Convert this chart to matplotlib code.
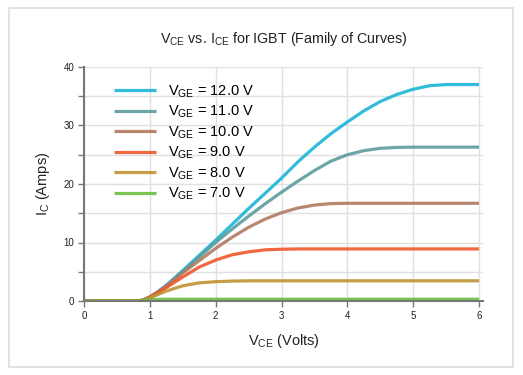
import matplotlib
matplotlib.use("Agg")
import matplotlib.pyplot as plt
from matplotlib.patches import Rectangle

plt.rcParams['font.family'] = ['Liberation Sans', 'DejaVu Sans']
plt.rcParams['mathtext.default'] = 'regular'

# V_CE sample points (Volts)
vce = [0, 0.8, 0.9, 1.0, 1.1, 1.25, 1.5, 1.75, 2.0, 2.25, 2.5, 2.75, 3.0,
       3.25, 3.5, 3.75, 4.0, 4.25, 4.5, 4.75, 5.0, 5.25, 5.5, 5.75, 6.0]

# I_C (Amps) for each gate voltage
ic_12 = [0, 0, 0.15, 0.7, 1.4, 2.7, 5.2, 7.8, 10.4, 13.1, 15.8, 18.4, 21.0,
         23.8, 26.3, 28.6, 30.6, 32.5, 34.1, 35.3, 36.2, 36.8, 37.0, 37.0, 37.0]
ic_11 = [0, 0, 0.15, 0.7, 1.4, 2.6, 5.0, 7.5, 10.0, 12.3, 14.5, 16.6, 18.6,
         20.5, 22.3, 23.9, 25.0, 25.7, 26.1, 26.25, 26.3, 26.3, 26.3, 26.3, 26.3]
ic_10 = [0, 0, 0.15, 0.7, 1.35, 2.5, 4.8, 6.9, 9.0, 10.9, 12.6, 14.0, 15.1,
         15.9, 16.4, 16.65, 16.7, 16.7, 16.7, 16.7, 16.7, 16.7, 16.7, 16.7, 16.7]
ic_9 = [0, 0, 0.15, 0.65, 1.25, 2.3, 4.1, 5.8, 7.0, 7.9, 8.4, 8.75, 8.85,
        8.9, 8.9, 8.9, 8.9, 8.9, 8.9, 8.9, 8.9, 8.9, 8.9, 8.9, 8.9]
ic_8 = [0, 0, 0.15, 0.55, 1.0, 1.7, 2.6, 3.1, 3.3, 3.4, 3.45, 3.45, 3.45,
        3.45, 3.45, 3.45, 3.45, 3.45, 3.45, 3.45, 3.45, 3.45, 3.45, 3.45, 3.45]
ic_7 = [0, 0, 0.1, 0.2, 0.28, 0.3, 0.3, 0.3, 0.3, 0.3, 0.3, 0.3, 0.3,
        0.3, 0.3, 0.3, 0.3, 0.3, 0.3, 0.3, 0.3, 0.3, 0.3, 0.3, 0.3]

labels = ['$V_{GE}$ = 12.0 V', '$V_{GE}$ = 11.0 V', '$V_{GE}$ = 10.0 V',
          '$V_{GE}$ = 9.0 V', '$V_{GE}$ = 8.0 V', '$V_{GE}$ = 7.0 V']
series = [ic_12, ic_11, ic_10, ic_9, ic_8, ic_7]
colors = ['#1db4d8', '#5e9b9e', '#b07a60', '#f0562a', '#bf922f', '#6abf40']

fig = plt.figure(figsize=(5.23, 3.75), dpi=100)
fig.patches.append(Rectangle((9 / 523, 8 / 375), 504 / 523, 359 / 375,
                             transform=fig.transFigure, fill=False,
                             edgecolor='#dddddd', linewidth=1.2))

ax = fig.add_axes([84 / 523, 1 - 301 / 375, 399 / 523, 234 / 375])

for y, lab, c in zip(series, labels, colors):
    ax.plot(vce, y, color=c, lw=2.3, label=lab, alpha=0.9,
            solid_capstyle='butt', solid_joinstyle='round', zorder=3)

ax.set_xlim(0, 6.06)
ax.set_ylim(0, 40)
ax.set_xticks(range(0, 7))
ax.set_yticks(range(0, 41, 10))
ax.set_yticks(range(5, 40, 10), minor=True)
ax.grid(True, which='both', axis='y', color='#e0e0e0', lw=1.0)
ax.grid(True, which='major', axis='x', color='#e0e0e0', lw=1.0)
ax.set_axisbelow(True)

for s in ['top', 'right']:
    ax.spines[s].set_visible(False)
for s in ['left', 'bottom']:
    ax.spines[s].set_color('#777777')
    ax.spines[s].set_linewidth(1.5)
    ax.spines[s].set_zorder(4)

ax.tick_params(axis='both', which='both', length=4, width=1, color='#777777',
               labelsize=7, labelcolor='#222222', pad=3)

ax.set_title('$V_{CE}$ vs. $I_{CE}$ for IGBT (Family of Curves)',
             fontsize=10.3, pad=17, color='#222222')
ax.set_xlabel('$V_{CE}$ (Volts)', fontsize=10.5, color='#222222', labelpad=8)
ax.set_ylabel('$I_C$ (Amps)', fontsize=10.5, color='#222222', labelpad=8)

ax.legend(loc='upper left', bbox_to_anchor=(0.06, 0.955), frameon=False,
          fontsize=10.5, handlelength=2.9, handletextpad=0.8,
          labelspacing=0.28, borderaxespad=0)

fig.savefig('out.png', dpi=100)
